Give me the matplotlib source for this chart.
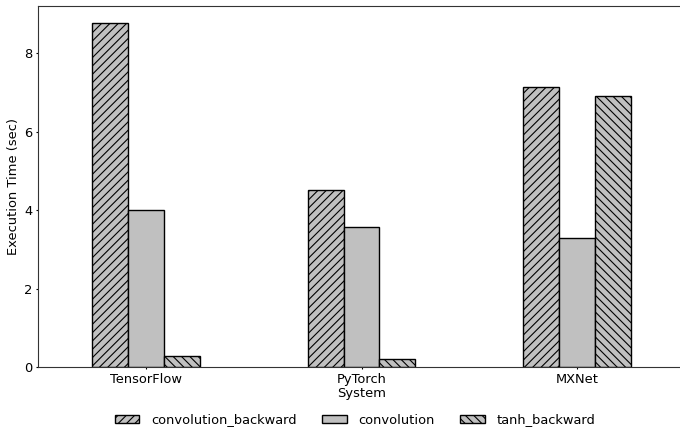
import matplotlib
matplotlib.use("Agg")
import matplotlib.pyplot as plt
import numpy as np

systems = ["TensorFlow", "PyTorch", "MXNet"]
series_names = ["convolution_backward", "convolution", "tanh_backward"]
conv_backward = [8.76, 4.51, 7.13]
convolution = [4.00, 3.57, 3.29]
tanh_backward = [0.28, 0.20, 6.90]
hatches = ["////", "", "\\\\\\\\"]

FS = 9.4
plt.rcParams["hatch.linewidth"] = 0.8
fig = plt.figure(figsize=(6.8, 4.3), dpi=100)
ax = fig.add_axes([38 / 680, 1 - 367 / 430, (685 - 38) / 680, (367 - 6) / 430])

x = np.arange(len(systems))
w = 1 / 6
for i, (name, vals) in enumerate(zip(series_names, [conv_backward, convolution, tanh_backward])):
    ax.bar(x + (i - 1) * w, vals, w, color="#c0c0c0", edgecolor="black",
           linewidth=1.0, hatch=hatches[i], label=name)

ax.set_xlim(-0.5, 2.5)
ax.set_xticks(x)
ax.set_xticklabels(systems, fontsize=FS)
ax.set_yticks([0, 2, 4, 6, 8])
ax.tick_params(labelsize=FS, length=1.5, pad=2.5)
ax.set_ylabel("Execution Time (sec)", fontsize=FS, labelpad=3)
ax.set_xlabel("System", fontsize=FS, labelpad=1)
for s in ["top", "left", "bottom", "right"]:
    ax.spines[s].set_color("#333333")

leg = fig.legend(loc="center", bbox_to_anchor=(355 / 680, 1 - 420 / 430), ncol=3,
                 frameon=False, fontsize=FS, handlelength=1.9, handleheight=0.5,
                 handletextpad=0.92, columnspacing=1.9)

fig.savefig("out.png", dpi=100)
